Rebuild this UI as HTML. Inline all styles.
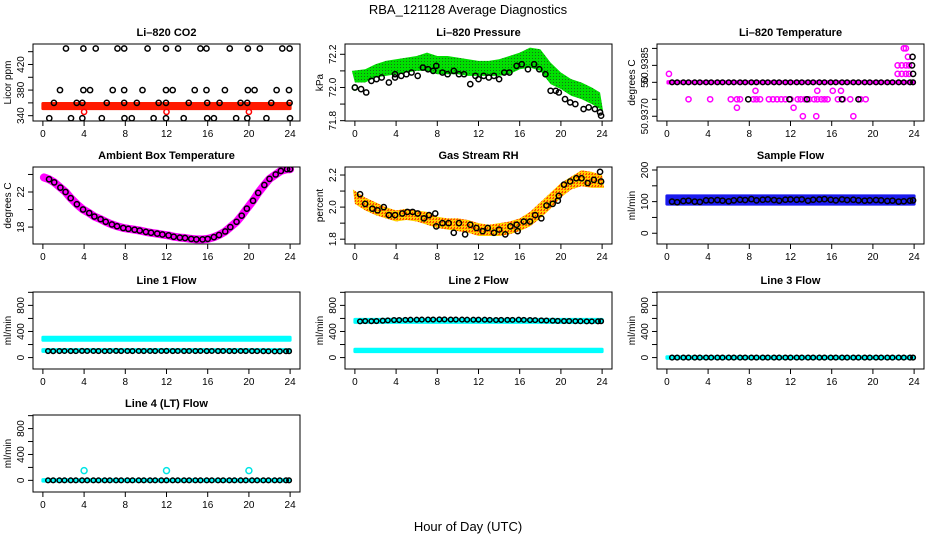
<!DOCTYPE html>
<html><head><meta charset="utf-8"><style>
html,body{margin:0;padding:0;background:#fff}
svg{display:block;font-family:"Liberation Sans",sans-serif}
</style></head><body>
<svg id="chart" width="936" height="540" viewBox="0 0 936 540" xmlns="http://www.w3.org/2000/svg">
<defs>
<pattern id="pGreen" width="3" height="3" patternUnits="userSpaceOnUse"><rect width="3" height="3" fill="#00e000"/><rect x="1" y="1" width="1" height="1" fill="#1a6b1a"/></pattern>
<pattern id="pOrange" width="3" height="3" patternUnits="userSpaceOnUse"><rect width="3" height="3" fill="#ffd000"/><rect x="0" y="0" width="2" height="1" fill="#ff5a00"/><rect x="1" y="2" width="1" height="1" fill="#ff3000"/></pattern>
</defs>
<text x="468" y="14" font-size="13" text-anchor="middle">RBA_121128  Average Diagnostics</text>
<text x="468" y="531" font-size="13" text-anchor="middle">Hour of Day (UTC)</text>
<g id="plots"></g>
</svg>
<script>
// ---- data arrays ----
const xTicks = [0,4,8,12,16,20,24];
const hrs = [0.5,1.0,1.6,2.1,2.7,3.2,3.8,4.3,4.9,5.4,6.0,6.5,7.1,7.6,8.2,8.7,9.3,9.8,10.4,10.9,11.5,12.0,12.6,13.1,13.7,14.2,14.8,15.3,15.9,16.4,17.0,17.5,18.1,18.6,19.2,19.7,20.3,20.8,21.4,21.9,22.5,23.0,23.6,23.9];
const bandHours = [0,24];
// CO2
const co2TopH = [2.24,3.93,5.13,7.24,7.89,10.16,11.95,13.12,15.29,15.88,18.14,19.9,21.06,23.24,23.95];
const co2MidH = [1.66,3.93,4.58,6.78,7.89,9.67,11.95,12.6,14.74,15.88,17.67,19.9,20.55,22.69,23.89];
const co2LowH = [1.07,3.28,3.83,6.2,7.89,9.12,11.24,11.95,14.16,15.95,17.15,19.19,19.84,22.17,23.95];
const co2BotH = [0.62,2.73,3.83,5.72,7.92,8.63,10.75,11.95,13.67,15.95,16.6,18.76,19.84,21.7,23.99];
const co2Levels = [445,380,360,336];
const co2BandLo = [351,351];
const co2BandHi = [359,359];
const co2RedH = [4,12,20];
const co2RedV = [346,346,346];
// Pressure
const presH = [0,0.6,1.1,1.6,2.1,2.6,3.3,3.9,3.9,4.5,5,5.5,6.1,6.6,7.1,7.6,7.9,8.5,9,9.6,10.1,10.6,11.2,11.7,12,12.5,13,13.5,14,14.5,15,15.7,16.2,16.8,17.4,17.9,18.5,19,19.5,19.8,20.4,20.9,21.4,22.2,22.7,23.3,23.8,23.9];
const presV = [72.00,71.99,71.97,72.04,72.05,72.06,72.03,72.06,72.08,72.07,72.08,72.09,72.07,72.12,72.11,72.10,72.13,72.09,72.08,72.10,72.08,72.08,72.02,72.07,72.05,72.07,72.06,72.07,72.05,72.09,72.09,72.13,72.14,72.11,72.14,72.11,72.08,71.98,71.98,71.97,71.93,71.91,71.90,71.87,71.88,71.87,71.85,71.83];
const presBandH = [0,1,2,3,4,5,6,7,8,9,10,11,12,13,14,15,16,17,18,19,20,21,22,23,23.8];
const presBandLo = [72.03,72.03,72.06,72.07,72.08,72.09,72.10,72.10,72.08,72.08,72.08,72.07,72.07,72.07,72.07,72.08,72.11,72.12,72.10,72.02,71.99,71.95,71.93,71.90,71.86];
const presBandHi = [72.10,72.11,72.14,72.16,72.17,72.18,72.19,72.21,72.19,72.19,72.18,72.17,72.16,72.16,72.17,72.19,72.21,72.24,72.23,72.15,72.09,72.05,72.03,72.00,71.97];
// Li-820 temperature (value = 50.9380 + k*0.00025)
const tMagH = [2.1,4.2,6.2,6.8,7.1,8.4,8.7,9.05,9.9,10.3,10.7,11.1,11.5,12.0,12.7,13.0,13.4,13.8,14.3,14.6,15.0,15.3,15.6,16.6,17.1,17.8,18.8,19.3,8.6,14.6,16.1,16.9,6.8,12.3,13.2,14.5,18.1,0.2,22.4,22.8,23.2,23.5,22.4,22.8,23.2,23.5,23.4,23.0,23.2];
const tMagV = [50.9375,50.9375,50.9375,50.9375,50.9375,50.9375,50.9375,50.9375,50.9375,50.9375,50.9375,50.9375,50.9375,50.9375,50.9375,50.9375,50.9375,50.9375,50.9375,50.9375,50.9375,50.9375,50.9375,50.9375,50.9375,50.9375,50.9375,50.9375,50.93775,50.93775,50.93775,50.93775,50.93725,50.93725,50.937,50.937,50.937,50.93825,50.93825,50.93825,50.93825,50.93825,50.9385,50.9385,50.9385,50.9385,50.93875,50.939,50.939];
const tBlkExtraH = [7.9,11.9,13.6,17,18.6,23.9,23.8,23.85];
const tBlkExtraV = [50.9375,50.9375,50.9375,50.9375,50.9375,50.93825,50.9385,50.93875];
const tBase = 50.9380;
// Ambient box temperature
const ambH = [0.1,0.6,1.1,1.7,2.2,2.7,3.3,3.9,4.5,5.0,5.6,6.1,6.7,7.2,7.8,8.3,8.9,9.4,10,10.5,11.1,11.6,12.2,12.7,13.3,13.8,14.4,14.9,15.5,16,16.6,17.1,17.7,18.2,18.8,19.3,19.8,20.4,20.9,21.5,22,22.6,23.1,23.7,24];
const ambV = [23.66,23.45,23.1,22.5,22.0,21.3,20.6,20.0,19.6,19.2,18.9,18.6,18.3,18.1,17.9,17.8,17.7,17.6,17.45,17.35,17.25,17.15,17.05,16.9,16.8,16.75,16.65,16.6,16.6,16.65,16.85,17.1,17.5,18.0,18.6,19.3,20.1,21.0,21.9,22.8,23.5,24.0,24.4,24.6,24.6];
// Gas stream RH
const rhH = [0.5,1,1.7,2.2,2.8,3.3,3.9,4.6,5.1,5.6,6.1,6.7,7.2,7.8,7.9,8.5,9.1,9.6,10.1,10.7,11.2,11.8,12.4,12.9,13.5,14,14.6,15.1,15.7,15.8,16.4,17,17.5,18.1,18.6,19.2,19.7,19.8,20.3,20.9,21.5,22,22.6,23.2,23.8,23.9];
const rhV = [2.08,2.02,1.99,1.98,2.0,1.95,1.95,1.96,1.97,1.97,1.96,1.93,1.95,1.96,1.88,1.9,1.9,1.84,1.9,1.83,1.89,1.87,1.85,1.87,1.84,1.86,1.83,1.88,1.89,1.85,1.91,1.91,1.95,1.93,2.01,2.02,2.04,2.07,2.14,2.16,2.18,2.18,2.15,2.17,2.22,2.16];
const rhBandH = [0,1,2,3,4,5,6,7,8,9,10,11,12,13,14,15,16,17,18,19,20,21,22,23,24];
const rhBandLo = [2.02,1.98,1.95,1.93,1.91,1.92,1.91,1.89,1.87,1.86,1.85,1.84,1.82,1.82,1.82,1.83,1.85,1.88,1.93,1.99,2.06,2.11,2.13,2.12,2.12];
const rhBandHi = [2.11,2.06,2.03,2.00,1.98,1.99,1.98,1.97,1.94,1.93,1.93,1.92,1.9,1.89,1.9,1.91,1.93,1.97,2.03,2.09,2.15,2.19,2.23,2.22,2.2];
// Flows
const sampleV = [100,98,102,103,100,99,104,104,105,103,101,104,106,105,108,104,106,107,105,103,106,107,106,107,103,106,107,108,106,104,107,105,106,104,103,104,105,104,102,103,100,101,103,104];
const sampleBandLo = [92,92];
const sampleBandHi = [118,118];
const line1V = [100,98,100,101,100,99,102,101,101,100,99,101,102,100,101,100,101,100,101,100,101,102,100,101,100,101,100,101,100,101,100,101,100,100,101,100,100,99,98,97,95,96,97,98];
const line1CyanHiLo = [265,265];
const line1CyanHiHi = [312,312];
const line1CyanLoLo = [95,95];
const line1CyanLoHi = [122,122];
const line2V = [555,560,558,560,565,570,575,575,578,580,580,582,583,583,585,585,583,583,582,580,580,581,580,578,576,577,578,578,580,578,575,574,570,568,565,562,560,560,558,557,555,555,556,558];
const line2CyanHiLo = [540,540];
const line2CyanHiHi = [585,585];
const line2CyanLoLo = [92,92];
const line2CyanLoHi = [128,128];
const line3V = hrs.map(()=>0);
const line4V = hrs.map(()=>0);
const line4OutH = [4,12,20];
const line4OutV = [150,150,150];

// ---- layout ----
const NS = "http://www.w3.org/2000/svg";
const root = document.getElementById('plots');
const COLS = [33,345,657], ROWS = [44,167,292,415], W = 267, H = 77;
function mk(tag, attrs, parent){
  const e = document.createElementNS(NS, tag);
  for (const k in attrs) e.setAttribute(k, attrs[k]);
  (parent||root).appendChild(e);
  return e;
}
function panel(c, r, title, ylab, ymin, ymax, yticks, ylabels){
  const L = COLS[c], T = ROWS[r];
  const g = mk('g', {});
  
  
  const sx = h => L + (h + 0.96) / 25.92 * W;
  const sy = v => T + H - (v - ymin) / (ymax - ymin) * H;
  const t = mk('text', {x: L + W/2, y: T - 8, 'font-size': 11, 'font-weight': 'bold', 'text-anchor': 'middle'}, g);
  t.textContent = title;
  
  
  const yl = mk('text', {x: 0, y: 0, 'font-size': 10, 'text-anchor': 'middle', transform: `translate(${L-22},${T+H/2}) rotate(-90)`}, g);
  yl.textContent = ylab;
  
  
  xTicks.forEach(v => {
    const x = sx(v);
    const tl = mk('line', {x1: x, x2: x, y1: T+H, y2: T+H+5, stroke: '#000'}, g);
    
    
    const tx = mk('text', {x: x, y: T+H+16, 'font-size': 10, 'text-anchor': 'middle'}, g);
    tx.textContent = v;
    
    
  });
  yticks.forEach((v, i) => {
    const y = sy(v);
    const tl = mk('line', {x1: L-5, x2: L, y1: y, y2: y, stroke: '#000'}, g);
    
    
    if (ylabels[i] !== '') {
      const tx = mk('text', {x: 0, y: 0, 'font-size': 10, 'text-anchor': 'middle', transform: `translate(${L-9},${y}) rotate(-90)`}, g);
      tx.textContent = ylabels[i];
      
      
    }
  });
  const clip = 'clip' + c + r;
  const cp = mk('clipPath', {id: clip}, g);
  mk('rect', {x: L, y: T, width: W, height: H}, cp);
  const plot = mk('g', {'clip-path': `url(#${clip})`}, g);
  
  
  const box = mk('rect', {x: L, y: T, width: W, height: H, fill: 'none', stroke: '#000'}, g);
  
  
  return {sx, sy, plot};
}
function pts(p, hs, vs, color, name, r, sw){
  hs.forEach((h, i) => {
    const e = mk('circle', {cx: p.sx(h), cy: p.sy(vs[i]), r: r||2.6, fill: 'none', stroke: color, 'stroke-width': sw||1.5}, p.plot);
    
    
  });
}
function band(p, hs, lo, hi, fill, name, pad){
  pad = pad||0;
  let d = '';
  hs.forEach((h, i) => { d += (i ? 'L' : 'M') + (p.sx(h) - (i===0?pad:0)) + ',' + p.sy(hi[i]); });
  for (let i = hs.length-1; i >= 0; i--) d += 'L' + (p.sx(hs[i]) + (i===hs.length-1?pad:0)) + ',' + p.sy(lo[i]);
  const e = mk('path', {d: d + 'Z', fill: fill, stroke: fill.startsWith('url') ? 'none' : fill, 'stroke-width': 3, 'stroke-linejoin': 'round'}, p.plot);
  
  
}

// CO2
let p = panel(0,0,'Li\u2013820 CO2','Licor ppm',331.7,452,[340,360,380,400,420,440],['340','','380','','420','']);
band(p, bandHours, co2BandLo, co2BandHi, '#ff1a00', 'co2-band');
pts(p, co2RedH, co2RedV, '#ff0000', 'co2-red-point');
[co2TopH, co2MidH, co2LowH, co2BotH].forEach((hs, k) => pts(p, hs, hs.map(() => co2Levels[k]), '#000', 'co2-point'));

// Pressure
p = panel(1,0,'Li\u2013820 Pressure','kPa',71.798,72.262,[71.8,71.9,72.0,72.1,72.2],['71.8','','72.0','','72.2']);
band(p, presBandH, presBandLo, presBandHi, 'url(#pGreen)', 'pressure-band', 3);
pts(p, [0], [72.0], '#00c000', 'pressure-green-point');
pts(p, presH, presV, '#000', 'pressure-point');

// Li-820 temperature
p = panel(2,0,'Li\u2013820 Temperature','degrees C',50.93686,50.93913,[50.9390,50.9385,50.9380,50.9375,50.9370],['','50.9385','50','','50.9370']);
band(p, [0.1,23.9], [tBase-0.00002,tBase-0.00002], [tBase+0.00002,tBase+0.00002], '#ff00ff', 'li820-temp-band');
pts(p, tMagH, tMagV, '#ff00ff', 'li820-temp-magenta-point');
pts(p, hrs, hrs.map(() => tBase), '#000', 'li820-temp-point', 2.3);
pts(p, tBlkExtraH, tBlkExtraV, '#000', 'li820-temp-point');

// Ambient
p = panel(0,1,'Ambient Box Temperature','degrees C',16.07,24.85,[18,20,22,24],['18','','22','']);
{ const e = mk('polyline', {points: ambH.map((h,i) => p.sx(h)+','+p.sy(ambV[i])).join(' '), fill: 'none', stroke: '#ff00ff', 'stroke-width': 8, 'stroke-linecap': 'round', 'stroke-linejoin': 'round'}, p.plot);
  
   }
pts(p, ambH.slice(1), ambV.slice(1), '#000', 'ambient-temp-point');

// RH
p = panel(1,1,'Gas Stream RH','percent',1.77,2.25,[1.8,1.9,2.0,2.1,2.2],['1.8','','2.0','','2.2']);
band(p, rhBandH, rhBandLo, rhBandHi, 'url(#pOrange)', 'rh-band', 2);
pts(p, rhH, rhV, '#000', 'rh-point');

// Sample flow
p = panel(2,1,'Sample Flow','ml/min',-34,209.5,[0,50,100,150,200],['0','','100','','200']);
band(p, bandHours, sampleBandLo, sampleBandHi, '#1a1aee', 'sample-flow-band');
pts(p, hrs, sampleV, '#000', 'sample-flow-point');

const fTicks = [0,200,400,600,800,1000], fLabels = ['0','','400','','800',''];
// Line 1
p = panel(0,2,'Line 1 Flow','ml/min',-175,1005,fTicks,fLabels);
band(p, bandHours, line1CyanHiLo, line1CyanHiHi, '#00ffff', 'line1-cyan-high-band');
band(p, bandHours, line1CyanLoLo, line1CyanLoHi, '#00ffff', 'line1-cyan-low-band');
pts(p, hrs, line1V, '#000', 'line1-flow-point', 2.3);
// Line 2
p = panel(1,2,'Line 2 Flow','ml/min',-175,1005,fTicks,fLabels);
band(p, bandHours, line2CyanHiLo, line2CyanHiHi, '#00ffff', 'line2-cyan-high-band');
band(p, bandHours, line2CyanLoLo, line2CyanLoHi, '#00ffff', 'line2-cyan-low-band');
pts(p, hrs, line2V, '#000', 'line2-flow-point', 2.3);
// Line 3
p = panel(2,2,'Line 3 Flow','ml/min',-175,1005,fTicks,fLabels);
band(p, bandHours, [-12,-12], [12,12], '#00ffff', 'line3-cyan-band');
pts(p, hrs, line3V, '#000', 'line3-flow-point', 2.3);
// Line 4
p = panel(0,3,'Line 4 (LT) Flow','ml/min',-180,1010,fTicks,fLabels);
band(p, bandHours, [-12,-12], [12,12], '#00ffff', 'line4-cyan-band');
pts(p, line4OutH, line4OutV, '#00e5e5', 'line4-outlier-point', 3);
pts(p, hrs, line4V, '#000', 'line4-flow-point', 2.3);
</script>
</body></html>
